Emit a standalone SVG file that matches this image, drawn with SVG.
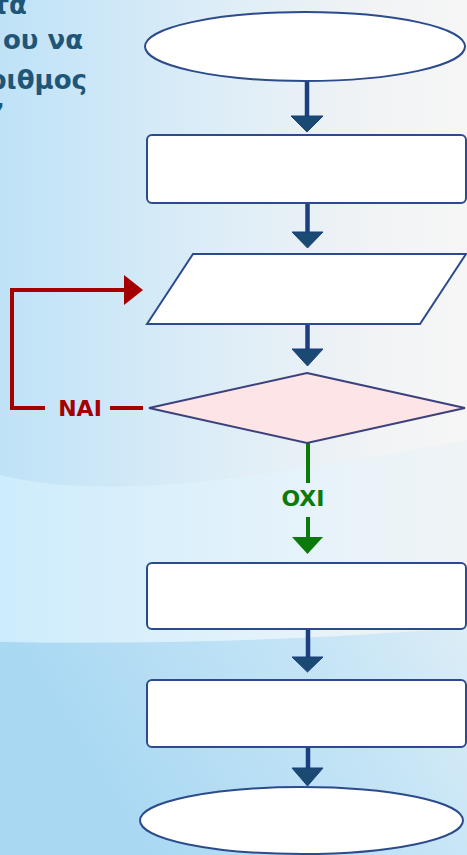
<svg xmlns="http://www.w3.org/2000/svg" width="467" height="855" viewBox="0 0 467 855">
  <defs>
    <linearGradient id="bg" x1="0" y1="0" x2="1" y2="0">
      <stop offset="0" stop-color="#bfe2f7"/>
      <stop offset="0.45" stop-color="#dcedf7"/>
      <stop offset="0.8" stop-color="#f1f3f5"/>
      <stop offset="1" stop-color="#f6f6f6"/>
    </linearGradient>
    <linearGradient id="bgLow" x1="0" y1="0" x2="1" y2="-0.3">
      <stop offset="0" stop-color="#a9d8f3"/>
      <stop offset="0.6" stop-color="#c6e5f6"/>
      <stop offset="1" stop-color="#e2eff6"/>
    </linearGradient>
    <linearGradient id="band" x1="0" y1="0" x2="1" y2="0">
      <stop offset="0" stop-color="#d0eefd"/>
      <stop offset="0.6" stop-color="#e4f3fb"/>
      <stop offset="1" stop-color="#eef3f6"/>
    </linearGradient>
    <style>
      .node { fill: #ffffff; stroke: #2c4b8c; stroke-width: 2; }
      .dec { fill: #fde4e6; stroke: #3b417c; stroke-width: 2; }
      .flow { stroke: #1b3f80; stroke-width: 4.5; fill: none; }
      .head { fill: #1a4a72; stroke: #1b3f80; stroke-width: 1; }
      .yes { stroke: #a50000; stroke-width: 4; fill: none; }
      .yeshead { fill: #a50000; }
      .no { stroke: #0b7a0b; stroke-width: 4; fill: none; }
      .nohead { fill: #0b7a0b; }
      .lbl { font-family: "DejaVu Sans", Verdana, sans-serif; font-weight: bold; font-size: 22px; text-anchor: middle; }
      .title { font-family: "DejaVu Sans", Verdana, sans-serif; font-weight: bold; font-size: 26px; fill: #1f5677; text-anchor: end; }
    </style>
  </defs>

  <!-- background -->
  <rect x="0" y="0" width="467" height="855" fill="url(#bg)"/>
  <path d="M0,640 C150,645 320,640 467,625 L467,855 L0,855 Z" fill="url(#bgLow)"/>
  <path d="M0,475 C120,505 300,470 467,440 L467,627 C320,640 150,645 0,642 Z" fill="url(#band)" opacity="0.85"/>

  <!-- partial title text -->
  <g id="title">
    <text class="title" x="27" y="14">τα</text>
    <text class="title" x="83" y="49">ου να</text>
    <text class="title" x="87" y="89">ριθμος</text>
    <text class="title" x="5" y="123">’</text>
  </g>

  <!-- connectors -->
  <g id="connectors">
    <line class="flow" x1="307" y1="81" x2="307" y2="118"/>
    <polygon class="head" points="291,116 323,116 307,132"/>
    <line class="flow" x1="307.5" y1="203" x2="307.5" y2="234"/>
    <polygon class="head" points="292,232 323,232 307.5,248"/>
    <line class="flow" x1="307.5" y1="324" x2="307.5" y2="351"/>
    <polygon class="head" points="292,349 323,349 307.5,366"/>

    <line class="no" x1="308" y1="443" x2="308" y2="483"/>
    <line class="no" x1="308" y1="517" x2="308" y2="539"/>
    <polygon class="nohead" points="292,537 323,537 307.5,554"/>
    <text class="lbl" x="303" y="506" fill="#0b7a0b">OXI</text>

    <path class="yes" d="M143,408 H110"/>
    <path class="yes" d="M45,408 H12 V290 H126"/>
    <polygon class="yeshead" points="124,275 143,290 124,305"/>
    <text class="lbl" x="80" y="416" fill="#a50000">NAI</text>

    <line class="flow" x1="308" y1="629" x2="308" y2="659"/>
    <polygon class="head" points="292,657 323,657 307.5,672"/>
    <line class="flow" x1="308" y1="747" x2="308" y2="770"/>
    <polygon class="head" points="292,768 323,768 307.5,786"/>
  </g>

  <!-- nodes -->
  <g id="start">
    <ellipse class="node" cx="305" cy="46.5" rx="160" ry="34.5"/>
  </g>
  <g id="process1">
    <rect class="node" x="147" y="135" width="319" height="68" rx="5"/>
  </g>
  <g id="input">
    <polygon class="node" points="193,254 466,254 420,324 147,324"/>
  </g>
  <g id="decision">
    <polygon class="dec" points="307,373 465,408 307,443 149,408"/>
  </g>
  <g id="process2">
    <rect class="node" x="147" y="563" width="319" height="66" rx="5"/>
  </g>
  <g id="process3">
    <rect class="node" x="147" y="680" width="319" height="67" rx="5"/>
  </g>
  <g id="end">
    <ellipse class="node" cx="301.5" cy="820.5" rx="161.5" ry="33.5"/>
  </g>
</svg>
